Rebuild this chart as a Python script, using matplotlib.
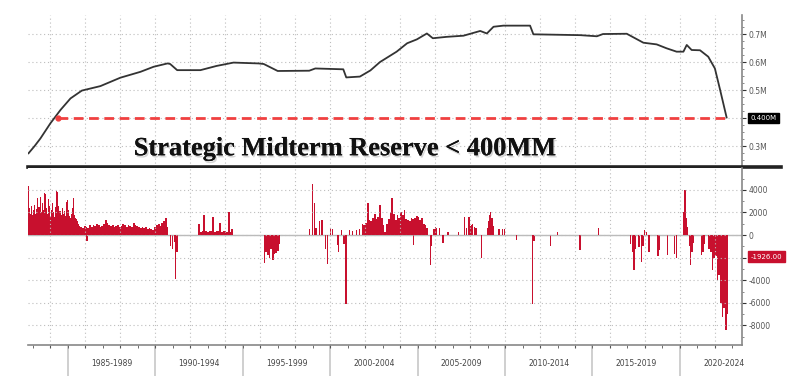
import numpy as np
import matplotlib.pyplot as plt
import matplotlib.patheffects as pe
from matplotlib.ticker import MultipleLocator

# SPR level, million (thousand barrels)
level_years = [1982.75, 1983.1, 1983.43, 1984.0, 1984.58, 1985.15, 1985.8, 1986.86, 1988.0,
               1989.15, 1989.9, 1990.7, 1990.85, 1991.25, 1992.58, 1993.5, 1994.47, 1995.9,
               1996.2, 1997.0, 1998.8, 1999.15, 2000.75, 2000.92, 2001.7, 2002.3, 2002.85,
               2003.8, 2004.4, 2004.96, 2005.53, 2005.87, 2006.67, 2007.62, 2008.58, 2008.96,
               2009.34, 2009.9, 2011.43, 2011.62, 2014.3, 2015.25, 2015.6, 2016.96, 2017.91,
               2018.67, 2019.24, 2019.81, 2020.2, 2020.39, 2020.67, 2021.15, 2021.62, 2022.0,
               2022.3, 2022.67]
level_vals = [0.274, 0.300, 0.327, 0.381, 0.429, 0.470, 0.498, 0.514, 0.544,
              0.565, 0.583, 0.595, 0.593, 0.571, 0.571, 0.586, 0.598, 0.595,
              0.593, 0.568, 0.569, 0.577, 0.574, 0.545, 0.548, 0.570, 0.600,
              0.637, 0.667, 0.681, 0.702, 0.685, 0.690, 0.694, 0.711, 0.702,
              0.726, 0.730, 0.730, 0.699, 0.696, 0.692, 0.700, 0.701, 0.669,
              0.663, 0.649, 0.637, 0.637, 0.661, 0.643, 0.642, 0.619, 0.577,
              0.500, 0.402]
LEVEL_LINE = 0.400
DASH_START = 1984.45
LAST_CHANGE = -1926.00

# weekly change (thousand barrels): dense runs, each (start year, step, values)
fill_83_85 = [4300, 2400, 1900, 2600, 1800, 2200, 2700, 1900, 2300, 3300, 2500, 3400, 2000,
              2800, 2200, 3700, 3600, 2400, 1900, 3200, 2600, 1700, 2200, 2800, 2000, 1600,
              2500, 3900, 3800, 2600, 2100, 1800, 2400, 1900, 2100, 1700, 2900, 3100, 2200,
              1700, 1500, 1900, 2400, 3250, 1800, 1500, 1400, 1200, 1000, 800]
fill_86_89 = [700, 600, 800, 750, 650, 900, 700, 850, 800, 1000, 900, 750, 800, 1000, 1300,
              1100, 900, 800, 850, 700, 800, 900, 750, 800, 1000, 850, 700, 900, 800, 750,
              1100, 900, 800, 700, 650, 750, 600, 700, 500, 600, 500, 450, 700]
fill_90 = [900, 1000, 800, 1100, 1200, 1500, 700]
fill_92_94 = [1000, 300, 400, 1800, 400, 300, 350, 400, 1600, 300, 400, 350, 1100, 300, 350,
              400, 300, 2000, 300, 500]
sale_96 = [-2500, -1500, -1800, -2000, -1200, -2200, -1700, -1600, -1400, -800]
fill_02_05 = [1000, 900, 1100, 2800, 1300, 1200, 1500, 1900, 1400, 1600, 2650, 1500, 900,
              300, 1000, 1400, 2000, 3250, 1900, 1300, 1800, 1500, 2000, 1800, 2200, 1400,
              1300, 1200, 1500, 1400, 1500, 1700, 1600, 1300, 1500, 1000, 900, 600]
release_21_22 = [-1200, -1500, -3100, -2000, -1900, -4000, -3500, -6000, -7250, -6500,
                 -8440, -7000]
runs = [(1982.72, 0.06, fill_83_85), (1985.72, 0.1, fill_86_89), (1990.05, 0.1, fill_90),
        (1992.45, 0.1, fill_92_94), (1996.2, 0.095, sale_96), (2001.8, 0.1, fill_02_05),
        (2021.62, 0.095, release_21_22)]

# isolated weekly bars
spot_years = [1986.06, 1990.85, 1990.95, 1991.05, 1991.14, 1991.2,
              1998.8, 1998.96, 1999.05, 1999.15, 1999.35, 1999.5, 1999.7, 1999.82, 2000.0,
              2000.1, 2000.39, 2000.45, 2000.6, 2000.75, 2000.87, 2001.05, 2001.25, 2001.45,
              2001.65, 2004.72, 2005.68, 2005.75, 2005.9, 2005.97, 2006.05, 2006.2, 2006.42,
              2006.7, 2007.3, 2007.66, 2007.75, 2007.9, 2007.97, 2008.05, 2008.12, 2008.2,
              2008.3, 2008.63, 2008.99, 2009.05, 2009.1, 2009.14, 2009.22, 2009.3, 2009.62,
              2009.8, 2009.95, 2010.6, 2011.53, 2011.62, 2012.57, 2012.96, 2014.25, 2015.3,
              2017.14, 2017.24, 2017.34, 2017.44, 2017.62, 2017.76, 2017.86, 2017.95, 2018.05,
              2018.2, 2018.71, 2018.8, 2019.25, 2019.66, 2019.77, 2020.2, 2020.26, 2020.33,
              2020.39, 2020.52, 2020.58, 2020.66, 2020.76, 2021.19, 2021.28, 2021.36]
spot_vals = [-500, -1000, -1200, -600, -3850, -1500,
             500, 4500, 2800, 600, 1200, 1300, -1200, -2600, 600,
             500, -900, -1500, 450, -800, -6070, 450, 400, 450,
             500, -900, -2660, -1000, 500, 700, 600, 600, -700,
             300, 300, 1600, 600, 1600, 800, 900, 1000, 700,
             600, -2070, 600, 1200, 1800, 2070, 1500, 800, 500,
             500, 500, -450, -6070, -500, -1000, 300, -1300, 600,
             -800, -1500, -3100, -1200, -1100, -2370, -1000, 450, 300,
             -1500, -1900, -1300, -1800, -1700, -2000, 2070, 4000, 1500,
             700, -1000, -2660, -1500, -700, -1800, -1500, -800]

period_edges = [1985, 1990, 1995, 2000, 2005, 2010, 2015, 2020]
period_labels = ["1985-1989", "1990-1994", "1995-1999", "2000-2004",
                 "2005-2009", "2010-2014", "2015-2019", "2020-2024"]

RED = "#c8102e"
GRID = "#bdbdbd"
TXT = "#555555"
X0, X1 = 1982.72, 2023.55

fig = plt.figure(figsize=(8.12, 3.76), dpi=100)
ax1 = fig.add_axes([28 / 812, 1 - 167 / 376, 714 / 812, 152 / 376])
ax2 = fig.add_axes([28 / 812, 1 - 345 / 376, 714 / 812, 177 / 376], sharex=ax1)

# --- top: SPR level ---
ax1.plot(level_years, level_vals, color="#333333", lw=1.3, zorder=3)
ax1.plot([DASH_START, level_years[-1]], [LEVEL_LINE, LEVEL_LINE], color="#f04040",
         lw=2.0, dashes=(3.5, 2), zorder=2)
ax1.plot([DASH_START], [LEVEL_LINE], marker="o", ms=3.5, color="#f04040", zorder=4)
ax1.set_xlim(X0, X1)
ax1.set_ylim(0.225, 0.768)
ax1.set_yticks([0.3, 0.4, 0.5, 0.6, 0.7], labels=["0.3M", "", "0.5M", "0.6M", "0.7M"])
ax1.yaxis.set_minor_locator(MultipleLocator(0.025))
ax1.text(1.012, (LEVEL_LINE - 0.225) / (0.768 - 0.225), "0.400M", transform=ax1.transAxes,
         fontsize=5, color="white", va="center", ha="left",
         bbox=dict(boxstyle="square,pad=0.35", fc="black", ec="black"))
ax1.text(0.444, 0.12, "Strategic Midterm Reserve < 400MM", transform=ax1.transAxes,
         fontsize=19, fontweight="bold", family="Liberation Serif", color="#111111",
         ha="center", va="center",
         path_effects=[pe.withSimplePatchShadow(offset=(1, -1.5), alpha=0.3, shadow_rgbFace="#777777"),
                       pe.Normal()])
ax1.axhline(0.225, xmin=0, xmax=(781 - 28) / 714, color="#222222", lw=2.6, clip_on=False, zorder=5)

# --- bottom: weekly change ---
for start, step, vals in runs:
    xs = start + step * np.arange(len(vals))
    ax2.bar(xs, vals, width=step, color=RED, linewidth=0, align="edge")
ax2.bar(spot_years, spot_vals, width=0.07, color=RED, linewidth=0, align="edge")
ax2.axhline(0, color="#bbbbbb", lw=1.0, zorder=0)
ax2.set_ylim(-9730, 5930)
ax2.set_yticks([4000, 2000, 0, -2000, -4000, -6000, -8000],
               labels=["4000", "2000", "0", "", "-4000", "-6000", "-8000"])
ax2.yaxis.set_minor_locator(MultipleLocator(1000))
ax2.text(1.012, (LAST_CHANGE + 9730) / (5930 + 9730), f"{LAST_CHANGE:.2f}",
         transform=ax2.transAxes, fontsize=5, color="white", va="center", ha="left",
         bbox=dict(boxstyle="square,pad=0.35", fc=RED, ec=RED))

for ax in (ax1, ax2):
    ax.set_xticks(np.arange(1984, 2024, 2))
    ax.set_xticks(np.arange(1983, 2024, 2), minor=True)
    ax.grid(True, which="major", color=GRID, lw=0.8, ls=(0, (1, 2.5)))
    ax.yaxis.tick_right()
    ax.tick_params(axis="y", which="major", length=3, color="#333333", labelsize=5.5,
                   labelcolor=TXT, pad=2)
    ax.tick_params(axis="y", which="minor", length=1.5, color="#777777")
    ax.spines["left"].set_visible(False)
    ax.spines["top"].set_visible(False)
    ax.spines["right"].set_color("#888888")
    ax.spines["right"].set_linewidth(1.2)
ax1.spines["bottom"].set_visible(False)
ax1.tick_params(axis="x", which="both", length=0, labelbottom=False)
ax2.spines["bottom"].set_color("#888888")
ax2.spines["bottom"].set_linewidth(1.2)
ax2.tick_params(axis="x", which="both", length=2.5, color="#555555", labelbottom=False)

sec = ax2.secondary_xaxis("bottom")
sec.set_xticks(period_edges, labels=[""] * len(period_edges))
sec.set_xticks([e + 2.5 for e in period_edges], labels=period_labels, minor=True)
sec.tick_params(which="major", length=23, width=1.3, color="#cccccc")
sec.tick_params(which="minor", length=0, pad=10, labelsize=5.5, labelcolor="#444444")
sec.spines["bottom"].set_visible(False)

fig.savefig("out.png", dpi=100)
